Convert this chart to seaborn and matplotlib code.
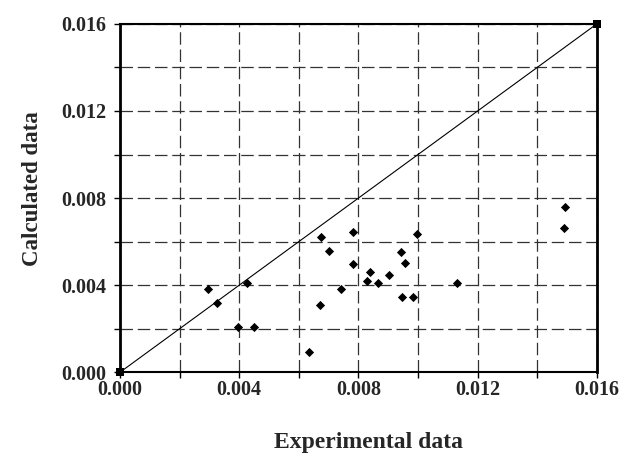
import numpy as np
import pandas as pd
import matplotlib
matplotlib.use("Agg")
import matplotlib.pyplot as plt
import seaborn as sns
from matplotlib.ticker import MultipleLocator, FormatStrFormatter

experimental = [0.00294, 0.00327, 0.00396, 0.00425, 0.00450, 0.00635, 0.00671, 0.00673,
                0.00701, 0.00740, 0.00782, 0.00783, 0.00828, 0.00839, 0.00865, 0.00901,
                0.00943, 0.00946, 0.00956, 0.00983, 0.00995, 0.01131, 0.01494, 0.01490]
calculated = [0.00383, 0.00317, 0.00210, 0.00412, 0.00207, 0.00093, 0.00308, 0.00623,
              0.00556, 0.00382, 0.00644, 0.00496, 0.00421, 0.00461, 0.00411, 0.00446,
              0.00554, 0.00345, 0.00504, 0.00346, 0.00635, 0.00411, 0.00759, 0.00664]
diag = [0.0, 0.016]

df = pd.DataFrame({"Experimental data": experimental, "Calculated data": calculated})

sns.set_style("white")
plt.rcParams["font.family"] = ["Liberation Serif", "DejaVu Serif"]
plt.rcParams["font.weight"] = "bold"

fig = plt.figure(figsize=(6.31, 4.58), dpi=100)
ax = fig.add_axes([0.190, 0.187, 0.756, 0.761])

sns.lineplot(x=diag, y=diag, ax=ax, color="black", linewidth=0.8, marker="s",
             markersize=6, markeredgewidth=0, zorder=5, clip_on=False)
sns.scatterplot(data=df, x="Experimental data", y="Calculated data", ax=ax,
                marker="D", s=22, color="black", edgecolor="black", linewidth=0, zorder=4)

ax.set_xlim(0, 0.016)
ax.set_ylim(0, 0.016)
ax.xaxis.set_major_locator(MultipleLocator(0.004))
ax.yaxis.set_major_locator(MultipleLocator(0.004))
ax.xaxis.set_minor_locator(MultipleLocator(0.002))
ax.yaxis.set_minor_locator(MultipleLocator(0.002))
ax.xaxis.set_major_formatter(FormatStrFormatter("%.3f"))
ax.yaxis.set_major_formatter(FormatStrFormatter("%.3f"))

ax.grid(True, which="both", color="0.2", linestyle=(0, (10, 3.8)), linewidth=0.9)
ax.set_axisbelow(True)

ax.tick_params(axis="both", which="both", direction="out", length=4, width=1,
               color="black", labelsize=14.5, bottom=True, left=True)
ax.tick_params(axis="x", which="both", pad=1.5)
ax.tick_params(axis="y", which="both", pad=6)
for lab in ax.get_xticklabels() + ax.get_yticklabels():
    lab.set_fontweight("bold")

for side in ["left", "right", "top", "bottom"]:
    ax.spines[side].set_visible(True)
    ax.spines[side].set_color("black")
ax.spines["left"].set_linewidth(2)
ax.spines["right"].set_linewidth(2)
ax.spines["top"].set_linewidth(1.5)
ax.spines["bottom"].set_linewidth(1.5)

ax.set_xlabel("Experimental data", fontsize=17, fontweight="bold")
ax.set_ylabel("Calculated data", fontsize=16.5, fontweight="bold")
ax.xaxis.set_label_coords(0.522, -0.171)
ax.yaxis.set_label_coords(-0.162, 0.527)

fig.savefig("out.png", dpi=100)
